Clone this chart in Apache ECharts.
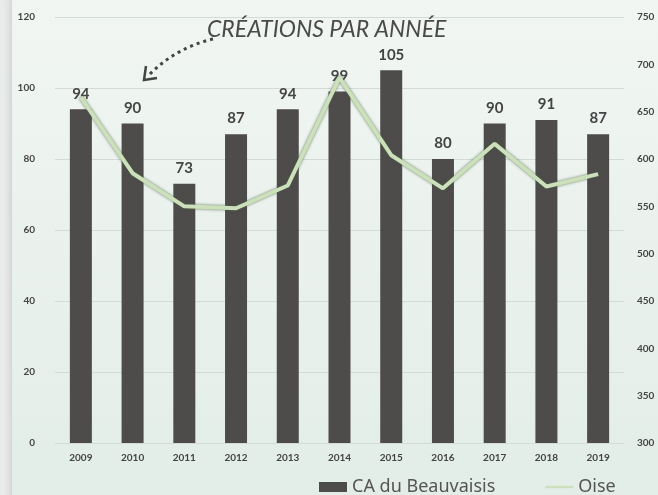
<!DOCTYPE html>
<html>
<head>
<meta charset="utf-8">
<script src="https://cdn.jsdelivr.net/npm/echarts@6/dist/echarts.min.js"></script>
<style>
html,body{margin:0;padding:0;background:#e9ecea;}
#chart{width:658px;height:495px;}
</style>
</head>
<body>
<div id="chart"></div>
<script>
var years = ['2009','2010','2011','2012','2013','2014','2015','2016','2017','2018','2019'];
var beauvaisis = [94, 90, 73, 87, 94, 99, 105, 80, 90, 91, 87];
var oise = [665, 585, 550, 548, 572, 686, 604, 569, 616, 571, 584];
var leftTicks = [0, 20, 40, 60, 80, 100, 120];
var rightTicks = [300, 350, 400, 450, 500, 550, 600, 650, 700, 750];

var chart = echarts.init(document.getElementById('chart'), null, {renderer: 'canvas'});
var font = 'Lato, "Noto Sans", sans-serif';

chart.setOption({
  animation: false,
  backgroundColor: 'transparent',
  graphic: [
    {
      type: 'rect', z: -10, silent: true,
      shape: {x: 12, y: -20, width: 680, height: 540, r: 22},
      style: {
        fill: new echarts.graphic.LinearGradient(0, 0, 0, 1, [
          {offset: 0, color: '#f2f6f3'},
          {offset: 1, color: '#e2ede7'}
        ]),
        shadowColor: 'rgba(0,0,0,0.18)', shadowBlur: 10
      }
    },
    {
      type: 'text', left: 207, top: 18, z: 10,
      style: {
        text: 'CRÉATIONS PAR ANNÉE',
        font: 'italic 23px ' + font,
        fill: '#4a4a4a'
      }
    },
    {
      type: 'bezierCurve', z: 10,
      shape: {x1: 213, y1: 39, x2: 148, y2: 76, cpx1: 175, cpy1: 48},
      style: {stroke: '#444', lineWidth: 3, lineDash: [3, 4], fill: null}
    },
    {
      type: 'polyline', z: 10,
      shape: {points: [[146, 66], [144, 80], [157, 78]]},
      style: {stroke: '#444', lineWidth: 2.5, fill: null}
    }
  ],
  grid: {left: 55, right: 34, top: 17, bottom: 52},
  legend: {
    left: 314, top: 473,
    itemWidth: 28, itemHeight: 10, itemGap: 50,
    textStyle: {fontFamily: '"Noto Sans", sans-serif', fontSize: 18, color: '#555'},
    data: [
      {name: 'CA du Beauvaisis', icon: 'rect'},
      {name: 'Oise', icon: 'path://M0,5 L24,5 L24,7 L0,7 Z'}
    ]
  },
  xAxis: {
    type: 'category', data: years,
    axisLine: {show: false}, axisTick: {show: false},
    axisLabel: {fontFamily: font, fontSize: 10, fontWeight: 'bold', color: '#444', margin: 10}
  },
  yAxis: [
    {
      type: 'value', min: leftTicks[0], max: leftTicks[leftTicks.length - 1], interval: 20,
      axisLine: {show: false}, axisTick: {show: false},
      axisLabel: {fontFamily: font, fontSize: 10, fontWeight: 'bold', color: '#444', margin: 20},
      splitLine: {lineStyle: {color: '#d3dbd6', width: 1}}
    },
    {
      type: 'value', min: rightTicks[0], max: rightTicks[rightTicks.length - 1], interval: 50,
      axisLine: {show: false}, axisTick: {show: false},
      axisLabel: {fontFamily: font, fontSize: 10, fontWeight: 'bold', color: '#444', margin: 13},
      splitLine: {show: false}
    }
  ],
  series: [
    {
      name: 'CA du Beauvaisis', type: 'bar', data: beauvaisis, yAxisIndex: 0,
      barWidth: 22,
      itemStyle: {color: '#4e4b4b'},
      label: {show: true, position: 'top', distance: 8, fontFamily: font, fontSize: 15, color: '#444', fontWeight: 'bold'}
    },
    {
      name: 'Oise', type: 'line', data: oise, yAxisIndex: 1,
      symbol: 'none', z: 5,
      lineStyle: {color: '#cbe0bb', width: 4, shadowColor: 'rgba(70,95,60,0.8)', shadowBlur: 3},
      itemStyle: {color: '#cbe0bb'}
    }
  ]
});
</script>
</body>
</html>
